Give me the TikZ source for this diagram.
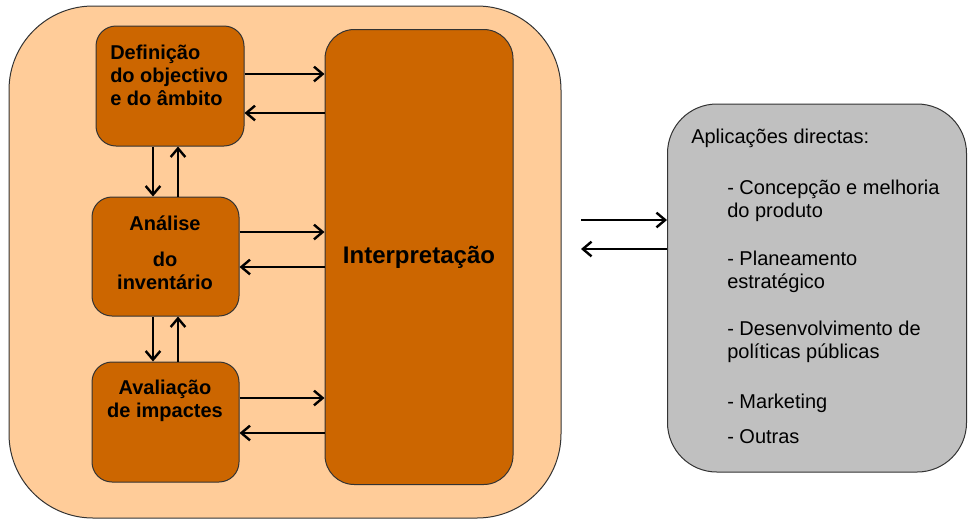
\documentclass[tikz,border=0pt]{standalone}
\usepackage{fontspec}
\setmainfont{Liberation Sans}
\usetikzlibrary{arrows.meta}
\definecolor{peach}{HTML}{FFCC99}
\definecolor{rust}{HTML}{CC6600}
\definecolor{greybox}{HTML}{C0C0C0}
\definecolor{edgecol}{HTML}{333333}
\begin{document}
\begin{tikzpicture}[x=0.75pt,y=-0.75pt,
  panel/.style={draw=edgecol, line width=0.75pt, inner sep=0pt},
  outerbox/.style={panel, fill=peach, rounded corners=63pt},
  stage/.style={panel, fill=rust, rounded corners=15pt},
  appbox/.style={panel, fill=greybox, rounded corners=37pt},
  stagetext/.style={inner sep=0pt, font=\bfseries\fontsize{15}{17.25}\selectfont},
  apptext/.style={inner sep=0pt, font=\fontsize{15}{17.25}\selectfont},
  arr/.style={line width=1.8pt, -{Straight Barb[length=6.5pt,width=11pt]}}]
\useasboundingbox (0,0) rectangle (968,519);

\node[outerbox, minimum width=414pt, minimum height=384pt] (outer) at (285,262) {};

\node[stage, minimum width=111pt, minimum height=90pt] (d1) at (170,86) {};
\node[stage, minimum width=110.25pt, minimum height=89.25pt] (d2) at (165.5,256.5) {};
\node[stage, minimum width=110.25pt, minimum height=90pt] (d3) at (165.5,422) {};
\node[stage, rounded corners=22pt, minimum width=141pt, minimum height=341.25pt,
      font=\bfseries\fontsize{18}{21}\selectfont] (interp) at (419,257) {Interpretação};

\node[stagetext, anchor=west, align=left] (t1) at (110,75) {Definição\\do objectivo\\e do âmbito};
\node[stagetext, align=center] (t2) at (165,252.5) {Análise\\[9.75pt]do\\inventário};
\node[stagetext, align=center] (t3) at (165,400.5) {Avaliação\\de impactes};

\node[appbox, minimum width=224.25pt, minimum height=276pt] (apps) at (817,288) {};
\node[apptext, anchor=west] (head) at (691,138) {Aplicações directas:};
\node[apptext, anchor=north west, align=left] (list) at (727,180)
  {- Concepção e melhoria\\do produto\\[18.75pt]- Planeamento\\estratégico\\[18pt]- Desenvolvimento de\\políticas públicas\\[20.25pt]- Marketing\\[9pt]- Outras};

% horizontal arrows to/from Interpretação
\draw[arr] (d1.east |- 0,74) -- (interp.west |- 0,74);
\draw[arr] (interp.west |- 0,113) -- (d1.east |- 0,113);
\draw[arr] (d2.east |- 0,232) -- (interp.west |- 0,232);
\draw[arr] (interp.west |- 0,267) -- (d2.east |- 0,267);
\draw[arr] (d3.east |- 0,398) -- (interp.west |- 0,398);
\draw[arr] (interp.west |- 0,433) -- (d3.east |- 0,433);

% vertical arrows between stages
\draw[arr] (d1.south -| 153,0) -- (d2.north -| 153,0);
\draw[arr] (d2.north -| 178,0) -- (d1.south -| 178,0);
\draw[arr] (d2.south -| 153,0) -- (d3.north -| 153,0);
\draw[arr] (d3.north -| 178,0) -- (d2.south -| 178,0);

% arrows to/from applications
\coordinate (r1) at (581,220);
\coordinate (r2) at (581,249);
\draw[arr] (r1) -- (r1 -| apps.west);
\draw[arr] (r2 -| apps.west) -- (r2);
\end{tikzpicture}
\end{document}
